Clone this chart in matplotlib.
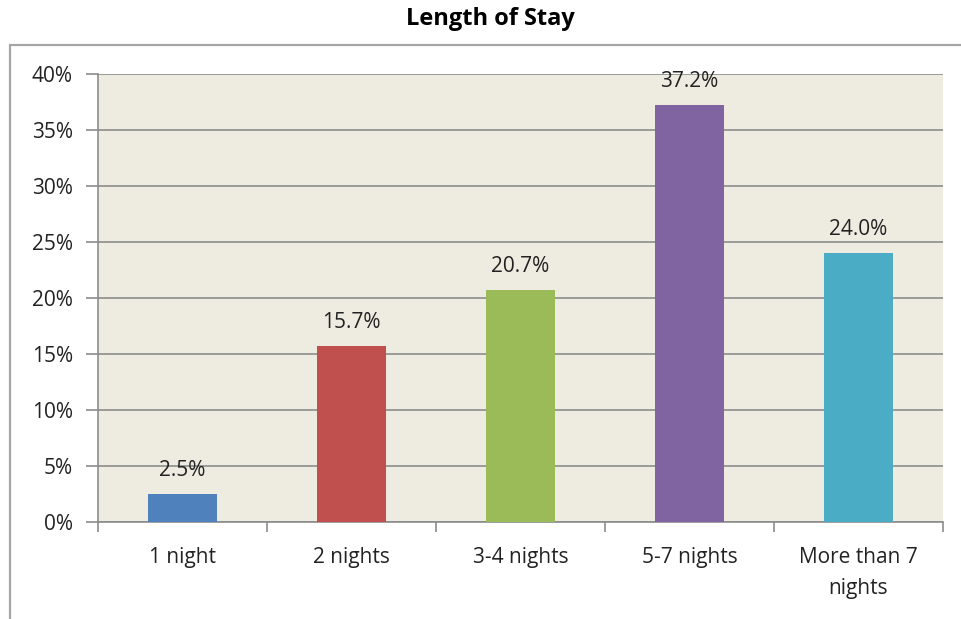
import matplotlib
matplotlib.use("Agg")
import matplotlib.pyplot as plt
from matplotlib.patches import Rectangle
from matplotlib.ticker import FuncFormatter, MultipleLocator

categories = ["1 night", "2 nights", "3-4 nights", "5-7 nights", "More than 7\nnights"]
values = [2.5, 15.7, 20.7, 37.2, 24.0]
colors = ["#4F81BD", "#C0504D", "#9BBB59", "#8064A2", "#4BACC6"]
title = "Length of Stay"

plt.rcParams['font.family'] = ['Open Sans', 'DejaVu Sans']

W, H = 961, 619
fig = plt.figure(figsize=(W / 100, H / 100), dpi=100)
fig.patch.set_facecolor("white")

# outer chart border
fig.add_artist(Rectangle((10 / W, -0.05), 1.2, (H - 45) / H + 0.05, transform=fig.transFigure,
                         fill=False, edgecolor="#A6A6A6", linewidth=1.6))

ax = fig.add_axes([98 / W, (H - 522) / H, (943 - 98) / W, (522 - 74) / H])
ax.set_facecolor("#EEECE1")

x = list(range(len(categories)))
ax.bar(x, values, width=0.41, color=colors, zorder=3)
for xi, v in zip(x, values):
    ax.annotate(f"{v:.1f}%", (xi, v), xytext=(0, 9.5), textcoords="offset points",
                ha="center", va="bottom", fontsize=15, color="#222222")

ax.set_xlim(-0.5, len(categories) - 0.5)
ax.set_ylim(0, 40)
ax.yaxis.set_major_locator(MultipleLocator(5))
ax.yaxis.set_major_formatter(FuncFormatter(lambda v, p: f"{v:.0f}%"))
ax.grid(axis="y", color="#8C8C8C", linewidth=1.2, zorder=1)
ax.set_axisbelow(True)

ax.set_xticks(x)
ax.set_xticklabels(categories, fontsize=15, color="#222222", linespacing=1.65)
ax.tick_params(axis="x", length=0, pad=18)
ax.set_xticks([i - 0.5 for i in range(len(categories) + 1)], minor=True)
ax.tick_params(axis="x", which="minor", length=7, color="#8C8C8C", width=1.2)
ax.tick_params(axis="y", length=9, color="#8C8C8C", width=1.2, labelsize=15, labelcolor="#222222", pad=9)

for s in ["top", "right"]:
    ax.spines[s].set_visible(False)
for s in ["left", "bottom"]:
    ax.spines[s].set_color("#8C8C8C")
    ax.spines[s].set_linewidth(1.2)

fig.text(490 / W, 1 - 19 / H, title, ha="center", va="center", fontsize=17, fontweight="bold")

fig.savefig("out.png", dpi=100)
